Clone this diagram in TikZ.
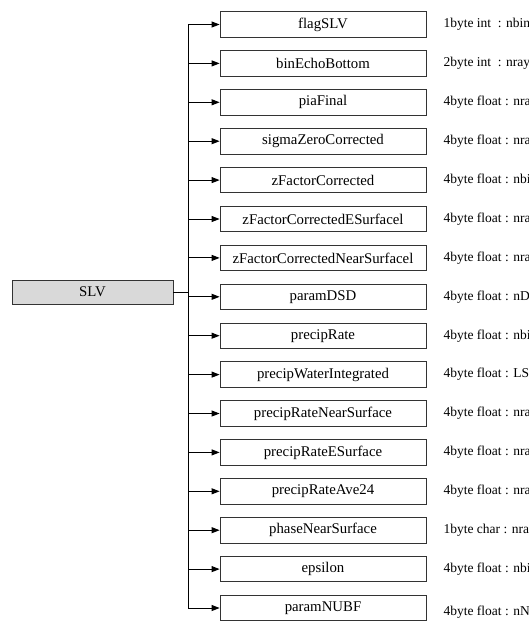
\documentclass[tikz,border=0pt]{standalone}
\usepackage{fontspec}
\setmainfont{Liberation Serif}
\usetikzlibrary{positioning,arrows.meta}

\begin{document}
\begin{tikzpicture}[
    x=1pt, y=1pt,
    node distance=12.6pt,
    fieldbox/.style={
        draw=black!80,
        line width=0.8pt,
        align=center,
        font=\fontsize{14.8}{17}\selectfont,
        minimum width=206pt,
        minimum height=25.5pt,
        inner sep=0pt
    },
    rootbox/.style={
        fieldbox,
        fill=gray!30,
        minimum width=161pt,
        minimum height=24pt
    },
    typelabel/.style={
        font=\fontsize{13.5}{16}\selectfont,
        anchor=west,
        inner sep=0pt
    },
    branch/.style={-{Triangle[length=8pt,width=6pt]}, line width=1pt},
    spine/.style={line width=1.3pt}
]
\useasboundingbox (0,0) rectangle (528,-632);
\clip (0,0) rectangle (528,-632);

\node[rootbox] (slv) at (92.5,-292) {SLV};

\node[fieldbox] (flag) at (323,-24.5) {flagSLV};
\node[fieldbox, below=of flag] (echo) {binEchoBottom};
\node[fieldbox, below=of echo] (pia) {piaFinal};
\node[fieldbox, below=of pia] (sigma) {sigmaZeroCorrected};
\node[fieldbox, below=of sigma] (zfac) {zFactorCorrected};
\node[fieldbox, below=of zfac] (zfaces) {zFactorCorrectedESurfacel};
\node[fieldbox, below=of zfaces] (zfacns) {zFactorCorrectedNearSurfacel};
\node[fieldbox, below=of zfacns] (dsd) {paramDSD};
\node[fieldbox, below=of dsd] (rate) {precipRate};
\node[fieldbox, below=of rate] (water) {precipWaterIntegrated};
\node[fieldbox, below=of water] (ratens) {precipRateNearSurface};
\node[fieldbox, below=of ratens] (ratees) {precipRateESurface};
\node[fieldbox, below=of ratees] (ave) {precipRateAve24};
\node[fieldbox, below=of ave] (phase) {phaseNearSurface};
\node[fieldbox, below=of phase] (eps) {epsilon};
\node[fieldbox, below=of eps] (nubf) {paramNUBF};

% data types, cut at the right edge
\node[typelabel, right=17pt of flag] (tflag) {1byte int\ \ : nbin};
\node[typelabel, right=17pt of echo] (techo) {2byte int\ \ : nray};
\node[typelabel, right=17pt of pia] (tpia) {4byte float : nra};
\node[typelabel, right=17pt of sigma] (tsigma) {4byte float : nra};
\node[typelabel, right=17pt of zfac] (tzfac) {4byte float : nbi};
\node[typelabel, right=17pt of zfaces] (tzfaces) {4byte float : nra};
\node[typelabel, right=17pt of zfacns] (tzfacns) {4byte float : nra};
\node[typelabel, right=17pt of dsd] (tdsd) {4byte float : nD};
\node[typelabel, right=17pt of rate] (trate) {4byte float : nbi};
\node[typelabel, right=17pt of water] (twater) {4byte float : LS};
\node[typelabel, right=17pt of ratens] (tratens) {4byte float : nra};
\node[typelabel, right=17pt of ratees] (tratees) {4byte float : nra};
\node[typelabel, right=17pt of ave] (tave) {4byte float : nra};
\node[typelabel, right=17pt of phase] (tphase) {1byte char : nra};
\node[typelabel, right=17pt of eps] (teps) {4byte float : nbi};
\node[typelabel, right=17pt of nubf, yshift=-4pt] (tnubf) {4byte float : nN};

\coordinate[right=15pt of slv.east] (fork);

\draw[line width=1pt] (slv) -- (fork);
\draw[spine] (fork |- flag) -- (fork |- nubf);
\foreach \f in {flag,echo,pia,sigma,zfac,zfaces,zfacns,dsd,rate,water,ratens,ratees,ave,phase,eps,nubf}
    \draw[branch] (fork |- \f) -- (\f);
\end{tikzpicture}
\end{document}
